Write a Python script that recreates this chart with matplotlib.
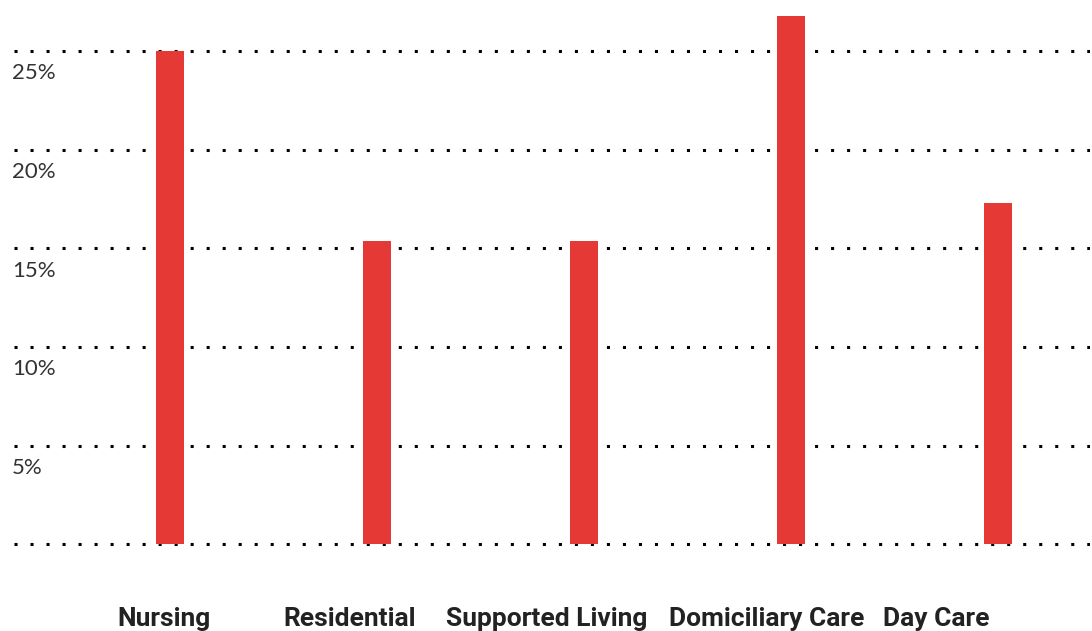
import matplotlib
matplotlib.use("Agg")
import matplotlib.pyplot as plt
import matplotlib.transforms as mtransforms

# data
categories = ["Nursing", "Residential", "Supported Living", "Domiciliary Care", "Day Care"]
values = [25.0, 15.4, 15.4, 26.8, 17.3]
y_ticks = [0, 5, 10, 15, 20, 25]
tick_labels = ["", "5%", "10%", "15%", "20%", "25%"]
# where the category labels sit, relative to bar centres
label_shift = [-0.03, -0.13, -0.18, -0.12, -0.30]

bar_color = "#E53935"

fig = plt.figure(figsize=(10.92, 6.31), dpi=100)
ax = fig.add_axes([14 / 1092, 1 - 564 / 631, 1076 / 1092, 564 / 631])

x = list(range(len(categories)))
ax.bar(x, values, width=0.135, color=bar_color, zorder=3)

# dotted gridlines
for t in y_ticks:
    ax.axhline(t, color="black", linewidth=2.2, linestyle=(0, (1, 4.24)),
               dash_capstyle="butt", zorder=1)

ax.set_xlim(-0.754, 4.444)
ax.set_ylim(-1, 27.6)
ax.axis("off")

# y labels under each gridline
trans_y = mtransforms.blended_transform_factory(fig.transFigure, ax.transData)
for t, lab in zip(y_ticks, tick_labels):
    if lab:
        ax.annotate(lab, xy=(12 / 1092, t), xycoords=trans_y,
                    xytext=(0, -16), textcoords="offset points",
                    ha="left", va="center", fontsize=16, color="#333333",
                    family="Lato")

# category labels at bottom
trans_x = mtransforms.blended_transform_factory(ax.transData, fig.transFigure)
for xi, name, s in zip(x, categories, label_shift):
    ax.text(xi + s, 1 - 619 / 631, name, transform=trans_x, ha="center", va="center",
            fontsize=19, fontweight="bold", color="#222222", family="Roboto")

fig.savefig("out.png", dpi=100)
